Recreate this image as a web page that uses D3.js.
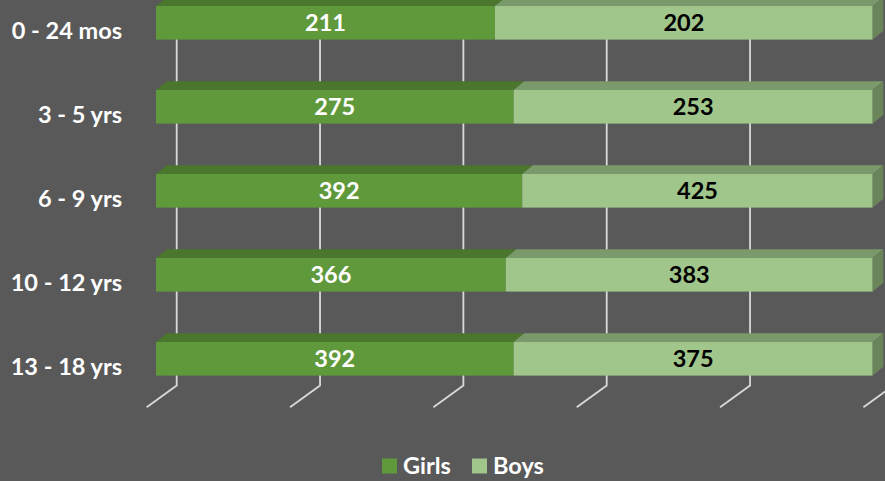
<!DOCTYPE html>
<html>
<head>
<meta charset="utf-8">
<script src="https://cdn.jsdelivr.net/npm/d3@7"></script>
<style>
  body { margin: 0; background: #595959; }
  svg { display: block; font-family: Lato, "Open Sans", sans-serif; font-weight: bold; }
</style>
</head>
<body>
<svg id="chart" width="885" height="481"></svg>
<script>
// age groups, top to bottom
const categories = ["0 - 24 mos", "3 - 5 yrs", "6 - 9 yrs", "10 - 12 yrs", "13 - 18 yrs"];
// counts shown as labels
const girls = [211, 275, 392, 366, 392];
const boys = [202, 253, 425, 383, 375];
// share of each bar taken by girls, as drawn (percent)
const girlsShare = [47.3, 49.9, 51.1, 48.8, 49.9];
const ticks = [0, 20, 40, 60, 80, 100];

const svg = d3.select("#chart");
const W = 885, H = 481;

svg.append("rect").attr("width", W).attr("height", H).attr("fill", "#595959");

const x = d3.scaleLinear().domain([0, 100]).range([156, 872.7]);
const y = d3.scaleBand().domain(categories).range([-19.2, 400.8])
    .paddingInner(0.6).paddingOuter(0.3);

// depth of the 3d box
const dx = 10.7, dy = 8.8;
// back wall / floor offsets relative to bar front plane
const backOff = 20.7, frontOff = -9.3;
const wallBottom = 385.5, floorDy = 21.8;

// gridlines on back wall + floor
const grid = svg.append("g").attr("stroke", "#d9d9d9").attr("stroke-width", 1.8).attr("fill", "none");
ticks.forEach(t => {
    const bx = x(t) + backOff;
    grid.append("path")
        .attr("d", `M${bx},-5 L${bx},${wallBottom} L${x(t) + frontOff},${wallBottom + floorDy}`);
});

const colors = {
    girls: { front: "#5f993b", top: "#4b762e", side: "#4b762e" },
    boys: { front: "#a0c68b", top: "#7b9a6b", side: "#6a8559" }
};

const bars = svg.append("g");
categories.forEach((c, i) => {
    const y0 = y(c), h = y.bandwidth();
    const segs = [
        { key: "girls", a: 0, b: girlsShare[i], v: girls[i], text: "#ffffff" },
        { key: "boys", a: girlsShare[i], b: 100, v: boys[i], text: "#000000" }
    ];
    segs.forEach(s => {
        const x0 = x(s.a), x1 = x(s.b), col = colors[s.key];
        bars.append("polygon")
            .attr("points", [[x0, y0], [x0 + dx, y0 - dy], [x1 + dx, y0 - dy], [x1, y0]].join(" "))
            .attr("fill", col.top);
        bars.append("rect")
            .attr("x", x0).attr("y", y0).attr("width", x1 - x0).attr("height", h)
            .attr("fill", col.front);
        if (s.b === 100) {
            bars.append("polygon")
                .attr("points", [[x1, y0], [x1 + dx, y0 - dy], [x1 + dx, y0 + h - dy], [x1, y0 + h]].join(" "))
                .attr("fill", col.side);
        }
        bars.append("text")
            .attr("x", (x0 + x1) / 2).attr("y", y0 + h / 2)
            .attr("dy", "0.36em").attr("text-anchor", "middle")
            .attr("font-size", 23.5).attr("fill", s.text)
            .text(s.v);
    });
    svg.append("text")
        .attr("x", 122).attr("y", y0 + h / 2 + 8)
        .attr("dy", "0.36em").attr("text-anchor", "end")
        .attr("font-size", 23.5).attr("fill", "#ffffff")
        .text(c);
});

// legend
const legend = [
    { name: "Girls", color: colors.girls.front, x: 382 },
    { name: "Boys", color: colors.boys.front, x: 472 }
];
legend.forEach(l => {
    svg.append("rect").attr("x", l.x).attr("y", 458.5).attr("width", 15).attr("height", 15).attr("fill", l.color);
    svg.append("text").attr("x", l.x + 21).attr("y", 466).attr("dy", "0.36em")
        .attr("font-size", 23.5).attr("fill", "#ffffff").text(l.name);
});
</script>
</body>
</html>
